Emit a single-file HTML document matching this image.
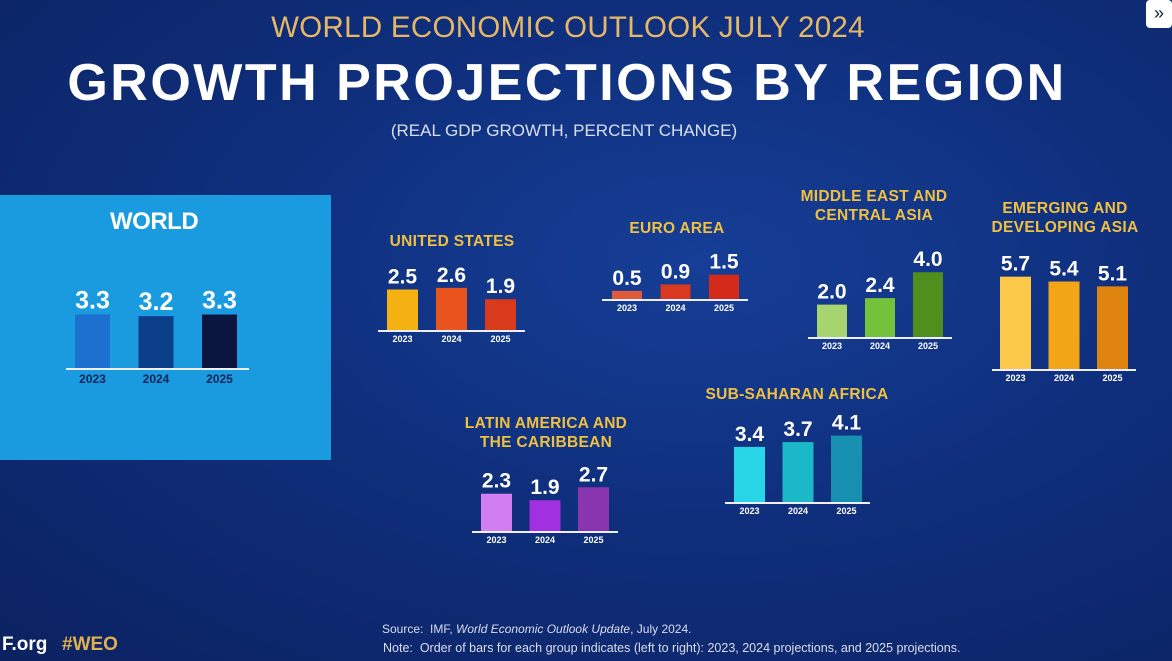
<!DOCTYPE html>
<html><head><meta charset="utf-8"><style>
html,body{margin:0;padding:0}
body{width:1172px;height:661px;overflow:hidden;position:relative;font-family:"Liberation Sans",sans-serif;
background:radial-gradient(ellipse at 60% 40%,#163e96 0%,#0f2f7d 45%,#0b2260 100%);}
.t{position:absolute;white-space:nowrap}
</style></head><body>
<div class="t" style="left:0;width:1136px;text-align:center;top:11px;font-size:29.5px;color:#e6b866;letter-spacing:0.3px">WORLD ECONOMIC OUTLOOK JULY 2024</div>
<div class="t" style="left:0;width:1134px;text-align:center;top:53px;font-size:52px;font-weight:900;color:#fff;letter-spacing:2.5px">GROWTH PROJECTIONS BY REGION</div>
<div class="t" style="left:0;width:1128px;text-align:center;top:121px;font-size:17px;color:#d8e0f0">(REAL GDP GROWTH, PERCENT CHANGE)</div>
<div style="position:absolute;left:0;top:195px;width:331px;height:265px;background:#1a9be0"></div>
<div class="t" style="left:110px;top:208px;font-size:24px;font-weight:900;color:#fff;letter-spacing:-0.5px">WORLD</div>
<div style="position:absolute;left:1146px;top:0;width:26px;height:28px;background:#fff;border-radius:4px;color:#123;font-size:18px;text-align:center;line-height:26px">»</div>
<svg id="chart" width="1172" height="661" style="position:absolute;left:0;top:0"></svg>
<div class="t" style="left:2px;top:634px;font-size:19px;font-weight:bold;color:#fff">F.org</div>
<div class="t" style="left:62px;top:634px;font-size:19px;font-weight:bold;color:#e0b050">#WEO</div>
<div class="t" style="left:382px;top:622px;font-size:12px;color:#dde">Source:&nbsp; IMF, <i>World Economic Outlook Update</i>, July 2024.</div>
<div class="t" style="left:383px;top:641px;font-size:12.5px;color:#dde">Note:&nbsp; Order of bars for each group indicates (left to right): 2023, 2024 projections, and 2025 projections.</div>
<script>
const years=["2023","2024","2025"];
const worldVals=[3.3,3.2,3.3];
const usVals=[2.5,2.6,1.9];
const euroVals=[0.5,0.9,1.5];
const meVals=[2.0,2.4,4.0];
const edaVals=[5.7,5.4,5.1];
const lacVals=[2.3,1.9,2.7];
const ssaVals=[3.4,3.7,4.1];
const panels=[
 {name:"world",vals:worldVals,x0:75,step:63.5,bw:35,base:368,l:66,r:249,col:["#1d6fd0","#0c3f8a","#0a1540"],ylab:"#0b2458",fs:25,yfs:12,title:[]},
 {name:"united-states",vals:usVals,x0:387,step:49,bw:31,base:330,l:378,r:525,col:["#f5b012","#e8531e","#d93a1c"],title:["UNITED STATES"],tx:452,ty:246},
 {name:"euro-area",vals:euroVals,x0:612,step:48.5,bw:30,base:299,l:602,r:748,col:["#e05a3a","#d8391f","#d42a1a"],title:["EURO AREA"],tx:677,ty:233},
 {name:"middle-east-central-asia",vals:meVals,x0:817,step:48,bw:30,base:337,l:808,r:952,col:["#a6d46e","#74c23c","#4e8f1e"],title:["MIDDLE EAST AND","CENTRAL ASIA"],tx:874,ty:201},
 {name:"emerging-developing-asia",vals:edaVals,x0:1000,step:48.5,bw:31,base:369,l:992,r:1136,col:["#fbc84a","#f2a617","#e08410"],title:["EMERGING AND","DEVELOPING ASIA"],tx:1065,ty:213},
 {name:"latin-america-caribbean",vals:lacVals,x0:481,step:48.5,bw:31,base:531,l:472,r:618,col:["#d27ef0","#a030e0","#8a35b0"],title:["LATIN AMERICA AND","THE CARIBBEAN"],tx:546,ty:428},
 {name:"sub-saharan-africa",vals:ssaVals,x0:734,step:48.5,bw:31,base:502,l:725,r:870,col:["#29d6e8","#1bb8c8","#168fb0"],title:["SUB-SAHARAN AFRICA"],tx:797,ty:399}
];
const ppu=16.2;
function yS(p,v){return p.base-v*ppu;}
function xS(p,i){return p.x0+i*p.step;}
const svg=document.getElementById('chart');const NS="http://www.w3.org/2000/svg";
function mk(t,a,txt){const e=document.createElementNS(NS,t);for(const k in a)e.setAttribute(k,a[k]);if(txt!=null)e.textContent=txt;svg.appendChild(e);return e;}
panels.forEach(p=>{
 p.title.forEach((s,j)=>{const e=mk('text',{x:p.tx,y:p.ty+j*19,'text-anchor':'middle','font-size':15.5,'font-weight':'bold',fill:'#f0c040','font-family':'Liberation Sans, sans-serif','letter-spacing':'0.3'},s);
 
 });
 p.vals.forEach((v,i)=>{
  const x=xS(p,i),y=yS(p,v);
  const r=mk('rect',{x:x,y:y,width:p.bw,height:p.base-y,fill:p.col[i]});
  
  
  const t=mk('text',{x:x+p.bw/2,y:y-6,'text-anchor':'middle','font-size':p.fs||21,'font-weight':'bold',fill:'#fff','font-family':'Liberation Sans, sans-serif'},v.toFixed(1));
  
  
  const yl=mk('text',{x:x+p.bw/2,y:p.base+(p.yfs?15:12),'text-anchor':'middle','font-size':p.yfs||9,'font-weight':'bold',fill:p.ylab||'#fff','font-family':'Liberation Sans, sans-serif'},years[i]);
  
  
 });
 const ln=mk('line',{x1:p.l,x2:p.r,y1:p.base+1,y2:p.base+1,stroke:'#eef','stroke-width':2});
 
 
});
</script>
</body></html>
